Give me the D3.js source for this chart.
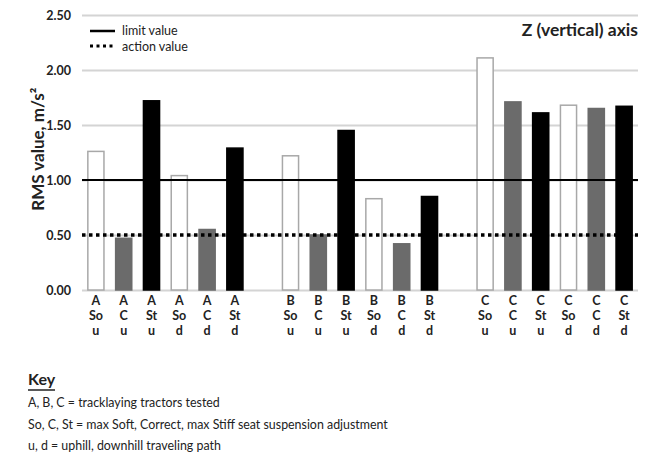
<!DOCTYPE html>
<html>
<head>
<meta charset="utf-8">
<script src="https://cdn.jsdelivr.net/npm/d3@7"></script>
<style>
  body { margin: 0; background: #fff; }
  text { font-family: Lato, "Open Sans", sans-serif; fill: #222; }
  .tick text { font-weight: bold; font-size: 12.5px; }
</style>
</head>
<body>
<div id="chart"></div>
<script>
// tractors, seat settings and paths
var tractors = ["A", "B", "C"];
var settings = ["So", "C", "St"];
var paths = ["u", "d"];

// RMS values, order per tractor: So u, C u, St u, So d, C d, St d
var valuesA = [1.26, 0.47, 1.72, 1.04, 0.55, 1.29];
var valuesB = [1.22, 0.50, 1.45, 0.83, 0.42, 0.85];
var valuesC = [2.11, 1.71, 1.61, 1.68, 1.65, 1.67];

var yTicks = [0, 0.5, 1.0, 1.5, 2.0, 2.5];
var limitValue = 1.0;
var actionValue = 0.5;

var keyLines = [
  "A, B, C = tracklaying tractors tested",
  "So, C, St = max Soft, Correct, max Stiff seat suspension adjustment",
  "u, d = uphill, downhill traveling path"
];

var width = 649, height = 454;
var margin = {top: 15, right: 11, bottom: 164, left: 82};
var graphWidth = width - margin.left - margin.right;
var graphHeight = height - margin.top - margin.bottom;

var fills = {"So": "#fff", "C": "#6b6b6b", "St": "#000"};
var strokes = {"So": "#a8a8a8", "C": "#6b6b6b", "St": "#000"};

// build bar list
var allValues = [valuesA, valuesB, valuesC];
var data = [];
var slots = [];
tractors.forEach(function(t, ti) {
  if (ti > 0) slots.push("gap" + ti);
  var k = 0;
  paths.forEach(function(p) {
    settings.forEach(function(s) {
      var key = t + " " + s + " " + p;
      slots.push(key);
      data.push({key: key, tractor: t, setting: s, path: p, value: allValues[ti][k]});
      k++;
    });
  });
});

var svg = d3.select("#chart")
  .append("svg")
  .attr("width", width)
  .attr("height", height)
  .append("g")
  .attr("transform", "translate(" + margin.left + "," + margin.top + ")");

var x = d3.scaleBand()
  .domain(slots)
  .range([0, graphWidth])
  .paddingInner(0.42)
  .paddingOuter(0.21);

var y = d3.scaleLinear()
  .domain([0, 2.5])
  .range([graphHeight, 0]);

// y axis with gridlines
var yAxis = svg.append("g")
  .attr("class", "y axis")
  .call(d3.axisLeft(y)
    .tickValues(yTicks)
    .tickFormat(d3.format(".2f"))
    .tickSizeInner(-graphWidth)
    .tickSizeOuter(0)
    .tickPadding(11));
yAxis.select(".domain").remove();
yAxis.selectAll(".tick line").attr("stroke", "#d4d4d4").attr("stroke-width", 2);

// bars
svg.selectAll(".bar")
  .data(data)
  .enter()
  .append("rect")
  .attr("class", "bar")
  .attr("x", function(d) { return x(d.key); })
  .attr("width", x.bandwidth())
  .attr("y", function(d) { return y(d.value); })
  .attr("height", function(d) { return graphHeight - y(d.value); })
  .attr("fill", function(d) { return fills[d.setting]; })
  .attr("stroke", function(d) { return strokes[d.setting]; })
  .attr("stroke-width", 1.5);

// limit & action lines
svg.append("line")
  .attr("x1", 0).attr("x2", graphWidth)
  .attr("y1", y(limitValue)).attr("y2", y(limitValue))
  .attr("stroke", "#000").attr("stroke-width", 2);

svg.append("line")
  .attr("x1", 0).attr("x2", graphWidth)
  .attr("y1", y(actionValue)).attr("y2", y(actionValue))
  .attr("stroke", "#000").attr("stroke-width", 3.5)
  .attr("stroke-dasharray", "3.5,3.5");

// x labels (3 lines each)
var xl = svg.append("g").attr("class", "x labels");
data.forEach(function(d) {
  var t = xl.append("text")
    .attr("x", x(d.key) + x.bandwidth() / 2)
    .attr("y", graphHeight + 15)
    .attr("text-anchor", "middle")
    .style("font-size", "12.5px")
    .style("font-weight", "bold");
  [d.tractor, d.setting, d.path].forEach(function(s, i) {
    t.append("tspan")
      .attr("x", x(d.key) + x.bandwidth() / 2)
      .attr("dy", i == 0 ? 0 : 15)
      .text(s);
  });
});

// y label
svg.append("text")
  .attr("transform", "rotate(-90)")
  .attr("x", -(y(1.28)))
  .attr("y", -38)
  .attr("text-anchor", "middle")
  .style("font-size", "17px")
  .style("font-weight", "bold")
  .text("RMS value, m/s²");

// title
svg.append("text")
  .attr("x", graphWidth)
  .attr("y", 21)
  .attr("text-anchor", "end")
  .style("font-size", "17.5px")
  .style("font-weight", "bold")
  .text("Z (vertical) axis");

// legend
var legend = svg.append("g").attr("transform", "translate(8,16)");
legend.append("line")
  .attr("x1", 0).attr("x2", 25).attr("y1", 0).attr("y2", 0)
  .attr("stroke", "#000").attr("stroke-width", 2.5);
legend.append("text").attr("x", 32).attr("y", 4)
  .style("font-size", "12.5px").text("limit value");
legend.append("line")
  .attr("x1", 0).attr("x2", 25).attr("y1", 15).attr("y2", 15)
  .attr("stroke", "#000").attr("stroke-width", 3)
  .attr("stroke-dasharray", "3,3.5");
legend.append("text").attr("x", 32).attr("y", 19.5)
  .style("font-size", "12.5px").text("action value");

// key
var root = d3.select("svg");
root.append("text")
  .attr("x", 28).attr("y", 385)
  .style("font-size", "16px")
  .style("font-weight", "bold")
  .text("Key");
root.append("line")
  .attr("x1", 28).attr("x2", 55).attr("y1", 390).attr("y2", 390)
  .attr("stroke", "#222").attr("stroke-width", 1.5);
keyLines.forEach(function(s, i) {
  root.append("text")
    .attr("x", 28)
    .attr("y", 407 + i * 21.5)
    .style("font-size", "12.4px")
    .text(s);
});
</script>
</body>
</html>
